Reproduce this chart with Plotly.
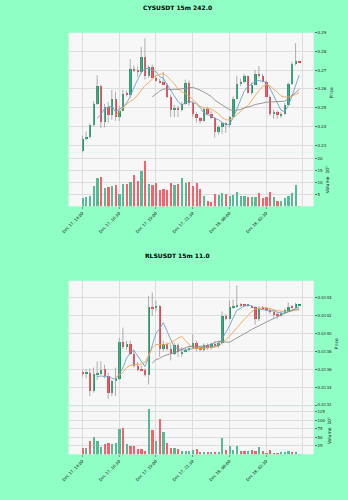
import plotly.graph_objects as go
import pandas as pd

# ---------------- data ----------------
tick_pos = [0, 10, 20, 30, 40, 50]
tick_text = ["Dec 17, 14:00", "Dec 17, 16:30", "Dec 17, 19:00", "Dec 17, 21:30",
             "Dec 18, 00:00", "Dec 18, 02:30"]

cys_title = "CYSUSDT 15m 242.0"
cys_open = [0.2268, 0.2335, 0.2342, 0.2408, 0.2520, 0.2615, 0.2427, 0.2503, 0.2460, 0.2550,
            0.2449, 0.2485, 0.2575, 0.2570, 0.2710, 0.2702, 0.2690, 0.2770, 0.2670, 0.2718,
            0.2662, 0.2645, 0.2636, 0.2625, 0.2560, 0.2490, 0.2500, 0.2490, 0.2523, 0.2635,
            0.2525, 0.2470, 0.2445, 0.2432, 0.2492, 0.2470, 0.2445, 0.2372, 0.2400, 0.2418,
            0.2410, 0.2450, 0.2550, 0.2630, 0.2638, 0.2668, 0.2580, 0.2625, 0.2682, 0.2672,
            0.2640, 0.2560, 0.2468, 0.2478, 0.2458, 0.2468, 0.2518, 0.2627, 0.2733, 0.2748]
cys_high = [0.2350, 0.2372, 0.2415, 0.2535, 0.2673, 0.2620, 0.2520, 0.2530, 0.2595, 0.2585,
            0.2510, 0.2595, 0.2590, 0.2760, 0.2725, 0.2720, 0.2825, 0.2870, 0.2725, 0.2730,
            0.2672, 0.2655, 0.2690, 0.2630, 0.2570, 0.2515, 0.2510, 0.2530, 0.2650, 0.2645,
            0.2535, 0.2478, 0.2450, 0.2500, 0.2505, 0.2480, 0.2450, 0.2405, 0.2425, 0.2425,
            0.2455, 0.2560, 0.2670, 0.2655, 0.2680, 0.2672, 0.2635, 0.2700, 0.2722, 0.2680,
            0.2645, 0.2565, 0.2490, 0.2485, 0.2475, 0.2525, 0.2635, 0.2745, 0.2845, 0.2750]
cys_low = [0.2262, 0.2325, 0.2335, 0.2400, 0.2515, 0.2390, 0.2395, 0.2420, 0.2435, 0.2430,
           0.2430, 0.2480, 0.2560, 0.2555, 0.2690, 0.2665, 0.2680, 0.2650, 0.2660, 0.2655,
           0.2640, 0.2630, 0.2620, 0.2550, 0.2450, 0.2450, 0.2450, 0.2480, 0.2515, 0.2510,
           0.2450, 0.2420, 0.2415, 0.2425, 0.2460, 0.2440, 0.2340, 0.2357, 0.2360, 0.2365,
           0.2395, 0.2445, 0.2545, 0.2615, 0.2630, 0.2575, 0.2570, 0.2620, 0.2660, 0.2635,
           0.2555, 0.2455, 0.2440, 0.2440, 0.2445, 0.2462, 0.2512, 0.2622, 0.2725, 0.2742]
cys_close = [0.2335, 0.2342, 0.2408, 0.2520, 0.2615, 0.2427, 0.2503, 0.2460, 0.2550, 0.2449,
             0.2485, 0.2575, 0.2570, 0.2710, 0.2702, 0.2690, 0.2770, 0.2670, 0.2718, 0.2662,
             0.2645, 0.2636, 0.2625, 0.2560, 0.2490, 0.2500, 0.2490, 0.2523, 0.2635, 0.2525,
             0.2470, 0.2445, 0.2432, 0.2492, 0.2470, 0.2445, 0.2372, 0.2400, 0.2418, 0.2410,
             0.2450, 0.2550, 0.2630, 0.2638, 0.2668, 0.2580, 0.2625, 0.2682, 0.2672, 0.2640,
             0.2560, 0.2468, 0.2478, 0.2460, 0.2468, 0.2518, 0.2627, 0.2733, 0.2748, 0.2745]
cys_volume = [3.5, 3.9, 4.3, 8.5, 12.0, 12.5, 7.8, 8.2, 8.5, 9.3,
              5.3, 9.7, 9.6, 10.3, 13.5, 10.6, 15.0, 19.2, 9.7, 9.2,
              10.1, 6.8, 7.4, 7.2, 9.9, 9.3, 9.7, 12.1, 10.0, 10.4,
              8.8, 10.0, 7.4, 4.6, 2.5, 2.1, 5.3, 4.9, 5.8, 5.1,
              4.3, 5.0, 6.3, 4.4, 4.4, 4.0, 3.9, 3.9, 5.7, 3.5,
              4.0, 6.1, 3.9, 2.5, 2.2, 3.6, 4.6, 5.6, 8.9, 0.05]

rls_title = "RLSUSDT 15m 11.0"
rls_open = [0.013560, 0.013552, 0.013563, 0.013362, 0.013548, 0.013556, 0.013611, 0.013530, 0.013341, 0.013474,
            0.013500, 0.013907, 0.013850, 0.013890, 0.013780, 0.013640, 0.013610, 0.013590, 0.013540, 0.014296,
            0.014285, 0.014310, 0.013833, 0.013889, 0.013833, 0.013780, 0.013878, 0.013770, 0.013800, 0.013820,
            0.013840, 0.013900, 0.013840, 0.013820, 0.013870, 0.013840, 0.013890, 0.013860, 0.013900, 0.014203,
            0.014170, 0.014296, 0.014310, 0.014320, 0.014318, 0.014312, 0.014316, 0.014300, 0.014167, 0.014290,
            0.014290, 0.014270, 0.014240, 0.014220, 0.014200, 0.014230, 0.014260, 0.014300, 0.014290, 0.014315]
rls_high = [0.013590, 0.013600, 0.013610, 0.013620, 0.013690, 0.013690, 0.013650, 0.013560, 0.013480, 0.013620,
            0.013950, 0.014067, 0.013920, 0.013920, 0.013820, 0.013680, 0.013640, 0.013610, 0.014420, 0.014460,
            0.014370, 0.014320, 0.013920, 0.013900, 0.013880, 0.013900, 0.013890, 0.013850, 0.013840, 0.013860,
            0.013990, 0.013920, 0.013860, 0.013890, 0.013890, 0.013900, 0.013920, 0.013920, 0.014250, 0.014220,
            0.014370, 0.014380, 0.014540, 0.014340, 0.014330, 0.014330, 0.014320, 0.014310, 0.014310, 0.014310,
            0.014300, 0.014290, 0.014260, 0.014240, 0.014250, 0.014280, 0.014350, 0.014320, 0.014345, 0.014320]
rls_low = [0.013520, 0.013500, 0.013300, 0.013340, 0.013480, 0.013540, 0.013500, 0.013267, 0.013300, 0.013300,
           0.013480, 0.013830, 0.013820, 0.013760, 0.013620, 0.013580, 0.013580, 0.013520, 0.013430, 0.014200,
           0.014250, 0.013740, 0.013800, 0.013810, 0.013700, 0.013760, 0.013740, 0.013740, 0.013790, 0.013800,
           0.013830, 0.013800, 0.013800, 0.013800, 0.013820, 0.013820, 0.013840, 0.013840, 0.013880, 0.014150,
           0.014160, 0.014280, 0.014290, 0.014300, 0.014300, 0.014300, 0.014290, 0.014100, 0.014140, 0.014270,
           0.014250, 0.014220, 0.014180, 0.014170, 0.014190, 0.014220, 0.014250, 0.014280, 0.014280, 0.014310]
rls_close = [0.013552, 0.013563, 0.013362, 0.013548, 0.013556, 0.013600, 0.013530, 0.013341, 0.013474, 0.013500,
             0.013907, 0.013850, 0.013890, 0.013780, 0.013640, 0.013600, 0.013590, 0.013540, 0.014296, 0.014285,
             0.014310, 0.013833, 0.013889, 0.013833, 0.013780, 0.013878, 0.013800, 0.013800, 0.013820, 0.013840,
             0.013900, 0.013830, 0.013820, 0.013870, 0.013840, 0.013890, 0.013860, 0.013900, 0.014203, 0.014170,
             0.014296, 0.014310, 0.014320, 0.014318, 0.014312, 0.014316, 0.014300, 0.014167, 0.014290, 0.014282,
             0.014270, 0.014240, 0.014210, 0.014200, 0.014230, 0.014270, 0.014300, 0.014290, 0.014330, 0.014315]
rls_volume = [18, 19, 41, 53, 41, 21, 30, 35, 32, 35,
              76, 78, 30, 26, 25, 16, 16, 11, 133, 71,
              41, 104, 67, 35, 18, 20, 16, 12, 12, 12,
              15, 17, 9, 9, 9, 9, 9, 9, 50, 13,
              26, 13, 25, 11, 12, 10, 13, 12, 22, 10,
              6, 13, 6, 6, 8, 8, 11, 7, 7, 0.3]

ma_periods = [5, 10, 20]

# ---------------- style ----------------
BG = "#8fffc6"
PLOT_BG = "#f7f7f7"
GRID = "#dddddd"
UP = "#159f6a"
DOWN = "#f5394b"
VUP = "#52bd95"
VDOWN = "#f5626e"
WICK = "#9a9a9a"
MA_COLORS = ["#6aa3c4", "#f2a553", "#8d8d8d"]
FONT = "DejaVu Sans"

W, H = 348, 500
x0_px, x1_px = 63, 313
xdom = [x0_px / W, x1_px / W]


def ydom(top_px, bot_px):
    return [1 - bot_px / H, 1 - top_px / H]


fig = go.Figure()


def add_chart(n, o, h, l, c, v, price_range, vol_range, dom_p, dom_v, price_dtick,
              price_fmt, vol_ticks, vol_title, body_eps):
    xp, yp = ("x" if n == 1 else f"x{n}"), ("y" if n == 1 else f"y{n}")
    xv, yv = f"x{n+1}", f"y{n+1}"
    idx = list(range(len(o)))
    up = [cc >= oo for oo, cc in zip(o, c)]
    # wicks
    wx, wy = [], []
    for i in idx:
        wx += [i, i, None]
        wy += [l[i], h[i], None]
    fig.add_trace(go.Scatter(x=wx, y=wy, mode="lines", line=dict(color=WICK, width=0.8),
                             xaxis=xp, yaxis=yp, hoverinfo="skip", showlegend=False))
    # bodies
    base = [min(oo, cc) for oo, cc in zip(o, c)]
    hgt = [max(abs(cc - oo), body_eps) for oo, cc in zip(o, c)]
    fig.add_trace(go.Bar(x=idx, y=hgt, base=base, width=0.65,
                         marker=dict(color=[UP if u else DOWN for u in up], line=dict(width=0)),
                         xaxis=xp, yaxis=yp, showlegend=False))
    # moving averages
    s = pd.Series(c)
    for p, col in zip(ma_periods, MA_COLORS):
        ma = s.rolling(p).mean()
        fig.add_trace(go.Scatter(x=idx, y=ma, mode="lines", line=dict(color=col, width=0.9),
                                 xaxis=xp, yaxis=yp, showlegend=False))
    # volume
    fig.add_trace(go.Bar(x=idx, y=v, width=0.6,
                         marker=dict(color=[VUP if u else VDOWN for u in up], line=dict(width=0)),
                         xaxis=xv, yaxis=yv, showlegend=False))

    xcommon = dict(range=[-3.73, 62.93], tickvals=tick_pos, showgrid=True, gridcolor=GRID,
                   gridwidth=0.8, zeroline=False, showline=False, domain=xdom,
                   minor=dict(tick0=0, dtick=10, showgrid=True, gridcolor=GRID, gridwidth=0.8))
    fig.layout[f"xaxis{'' if n == 1 else n}"] = dict(xcommon, anchor=yp, showticklabels=False)
    fig.layout[f"xaxis{n+1}"] = dict(xcommon, anchor=yv, ticktext=tick_text, tickangle=-45,
                                     tickfont=dict(size=4, color="#222", family=FONT),
                                     ticks="outside", ticklen=2, tickcolor="#888")
    fig.layout[f"yaxis{'' if n == 1 else n}"] = dict(
        domain=dom_p, range=price_range, side="right", anchor=xp, dtick=price_dtick,
        tickformat=price_fmt, showgrid=True, gridcolor=GRID, gridwidth=0.8, zeroline=False,
        ticks="outside", ticklen=2, tickcolor="#666",
        tickfont=dict(size=4, color="#222", family=FONT),
        title=dict(text="Price", font=dict(size=4.5, color="#222", family=FONT), standoff=3))
    fig.layout[f"yaxis{n+1}"] = dict(
        domain=dom_v, range=vol_range, side="right", anchor=xv, tickvals=vol_ticks,
        showgrid=True, gridcolor=GRID, gridwidth=0.8, zeroline=False,
        ticks="outside", ticklen=2, tickcolor="#666",
        tickfont=dict(size=4, color="#222", family=FONT),
        title=dict(text=vol_title, font=dict(size=4.5, color="#222", family=FONT), standoff=3))


add_chart(1, cys_open, cys_high, cys_low, cys_close, cys_volume,
          [0.2259, 0.2900], [0, 22.6], ydom(30, 151), ydom(151, 205), 0.01, ".2f",
          [5, 10, 15, 20], "Volume  10⁵", 0.0004)
add_chart(3, rls_open, rls_high, rls_low, rls_close, rls_volume,
          [0.013181, 0.014592], [0, 139.5], ydom(280, 407), ydom(407, 455), 0.0002, ".4f",
          [25, 50, 75, 100, 125], "Volume  10⁵", 0.000012)

fig.add_annotation(text=f"<b>{cys_title}</b>", x=0.5, y=1 - 5 / H, xref="paper", yref="paper",
                   showarrow=False, font=dict(size=6, color="#000", family=FONT),
                   xanchor="center", yanchor="middle")
fig.add_annotation(text=f"<b>{rls_title}</b>", x=0.5, y=1 - 254.5 / H, xref="paper", yref="paper",
                   showarrow=False, font=dict(size=6, color="#000", family=FONT),
                   xanchor="center", yanchor="middle")

fig.update_layout(width=W, height=H, margin=dict(l=0, r=0, t=0, b=0),
                  paper_bgcolor=BG, plot_bgcolor=PLOT_BG, bargap=0, showlegend=False,
                  font=dict(family=FONT))

fig.write_html("out.html")
